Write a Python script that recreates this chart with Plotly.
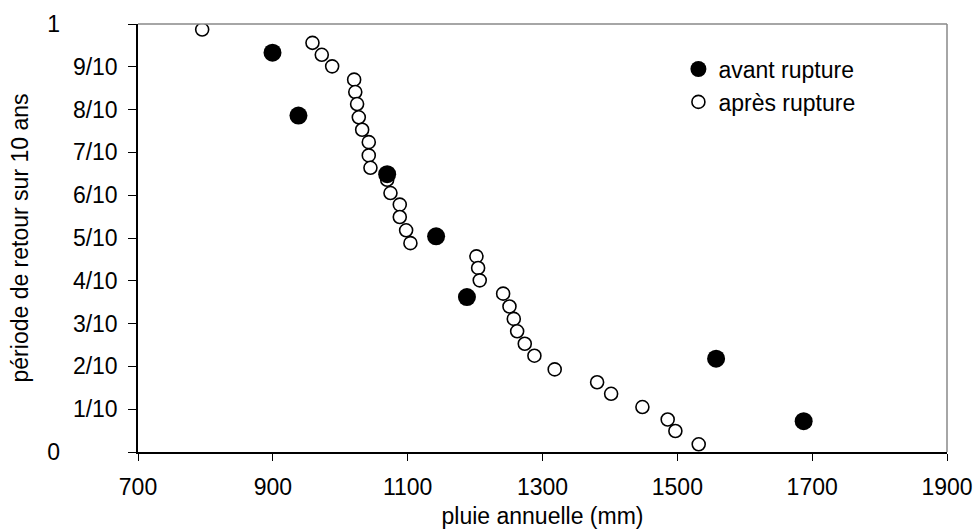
import plotly.graph_objects as go

# Data
avant_x = [899.5, 938, 1069.6, 1142.2, 1187.9, 1557.5, 1687.4]
avant_y = [0.933, 0.786, 0.649, 0.504, 0.362, 0.218, 0.072]

apres_x = [795.2, 958.8, 972.6, 988.0, 1020.6, 1022.3, 1025.0, 1027.5, 1032.5,
           1042.3, 1042.3, 1044.8, 1069.6, 1074.5, 1088.3, 1088.3, 1097.7, 1104.1,
           1202.0, 1204.5, 1206.9, 1241.6, 1251.0, 1257.4, 1262.4, 1273.7, 1288.0,
           1318.1, 1381.0, 1401.8, 1448.2, 1485.7, 1497.1, 1531.7]
apres_y = [0.987, 0.956, 0.928, 0.901, 0.870, 0.841, 0.813, 0.782, 0.753,
           0.724, 0.693, 0.664, 0.636, 0.605, 0.578, 0.549, 0.518, 0.488,
           0.457, 0.430, 0.401, 0.370, 0.340, 0.311, 0.282, 0.253, 0.225,
           0.193, 0.163, 0.136, 0.105, 0.076, 0.049, 0.018]

x_ticks = [700, 900, 1100, 1300, 1500, 1700, 1900]
y_ticks = [0, 0.1, 0.2, 0.3, 0.4, 0.5, 0.6, 0.7, 0.8, 0.9, 1.0]
NB = "\u00a0"
y_labels = ["0" + NB * 9, "1/10", "2/10", "3/10", "4/10", "5/10", "6/10",
            "7/10", "8/10", "9/10", "1" + NB * 9]

FONT = "Liberation Sans, Arial, sans-serif"
FS = 23

fig = go.Figure()
fig.add_trace(go.Scatter(
    x=apres_x, y=apres_y, mode="markers", name="après rupture",
    marker=dict(symbol="circle", size=13, color="white",
                line=dict(color="black", width=1.6)),
    legendrank=2,
))
fig.add_trace(go.Scatter(
    x=avant_x, y=avant_y, mode="markers", name="avant rupture",
    marker=dict(symbol="circle", size=18, color="black",
                line=dict(color="black", width=0)),
    legendrank=1,
))

fig.update_layout(
    width=977, height=530, autosize=False,
    margin=dict(l=137.5, r=30.3, t=23.5, b=78.3, pad=0),
    paper_bgcolor="white", plot_bgcolor="white",
    font=dict(family=FONT, size=FS, color="black"),
    showlegend=True,
    legend=dict(x=0.668, y=0.945, xanchor="left", yanchor="top",
                bgcolor="rgba(0,0,0,0)", font=dict(size=FS),
                itemsizing="trace", tracegroupgap=0),
    shapes=[
        dict(type="line", xref="paper", yref="paper", x0=0, x1=1, y0=1, y1=1,
             line=dict(color="#888888", width=1.5)),
        dict(type="line", xref="paper", yref="paper", x0=1, x1=1, y0=0, y1=1,
             line=dict(color="#888888", width=1.5)),
    ],
)

fig.update_xaxes(
    range=[700, 1900], tickvals=x_ticks, ticktext=[str(v) for v in x_ticks],
    showgrid=False, zeroline=False, showline=True, linecolor="black", linewidth=1.5,
    ticks="outside", ticklen=7, tickwidth=1.2, tickcolor="black",
    tickfont=dict(size=FS), ticklabelstandoff=7,
    title=dict(text="pluie annuelle (mm)", font=dict(size=FS), standoff=9),
    automargin=False,
)
fig.update_yaxes(
    range=[0, 1], tickvals=y_ticks, ticktext=y_labels,
    showgrid=False, zeroline=False, showline=True, linecolor="black", linewidth=1.5,
    ticks="outside", ticklen=8, tickwidth=1.2, tickcolor="black",
    tickfont=dict(size=FS), ticklabelstandoff=6,
    title=dict(text="période de retour sur 10 ans", font=dict(size=FS), standoff=12),
    automargin=False,
)

fig.write_html("out.html", config={"displayModeBar": False},
               post_script="document.body.style.margin='0px';document.body.style.overflow='hidden';")
